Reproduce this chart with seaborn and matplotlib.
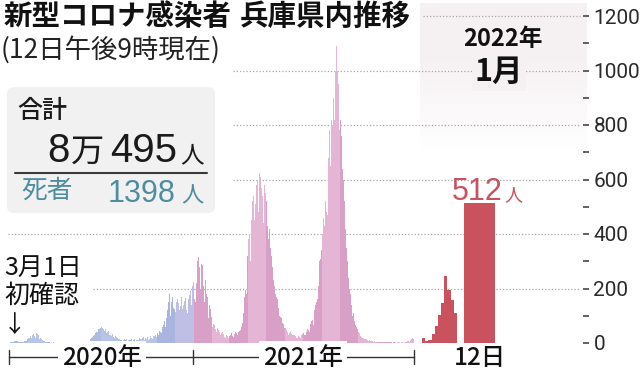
import numpy as np
import pandas as pd
import matplotlib
matplotlib.use("Agg")
import matplotlib.pyplot as plt
import seaborn as sns
from matplotlib.patches import FancyBboxPatch
from matplotlib.lines import Line2D

# ---------------- data (daily new cases, Hyogo) ----------------
m2020_03 = [1,0,2,1,3,2,6,5,4,6, 8,7,9,10,6,5,4,5,3,2, 4,3,5,3,4,6,8,9,7,12, 14]
m2020_04 = [15,18,20,22,25,16,20,28,30,32, 42,25,18,30,35,38,33,28,20,15, 22,18,16,12,10,8,6,9,7,5]
m2020_05 = [4,3,5,2,3,1,2,1,3,1, 0,1,2,0,1,0,0,1,0,0, 0,0,1,0,0,0,0,0,0,0, 0]
m2020_06 = [0,0,1,0,0,0,0,0,1,0, 0,0,0,1,0,0,0,0,1,0, 0,0,1,0,0,0,1,2,0,1]
m2020_07 = [1,2,1,3,2,4,5,4,6,8, 10,9,12,14,18,20,22,25,20,30, 35,38,40,45,42,48,52,50,45,55, 58]
m2020_08 = [60,55,48,52,58,45,50,42,38,35, 40,44,36,30,32,28,25,30,34,28, 22,20,24,26,18,22,20,16,15,18, 14]
m2020_09 = [12,15,10,14,9,11,8,13,12,10, 16,9,7,12,14,10,8,11,13,9, 6,10,12,15,11,9,14,12,10,13]
m2020_10 = [12,15,18,14,10,16,20,18,22,15, 12,14,18,16,20,22,17,12,15,19, 24,20,18,16,22,25,28,24,30,26, 22]
m2020_11 = [30,35,28,40,45,50,42,38,55,60, 65,70,80,75,60,90,110,120,130,150, 180,140,100,120,150,170,160,130,110,125]
m2020_12 = [115,140,150,130,160,145,110,120,150,135, 170,160,125,100,140,155,150,165,140,120, 110,150,160,145,175,190,150,140,180,210, 225]
m2021_01 = [140,160,150,180,220,260,300,315,320,280, 230,200,290,300,285,270,210,150,200,230, 210,180,170,130,90,120,140,125,105,95, 75]
m2021_02 = [60,70,80,65,55,50,40,45,55,60, 48,42,38,30,25,35,40,38,32,28, 22,20,28,30,26,24,20,22]
m2021_03 = [25,30,28,35,32,26,22,30,34,38, 40,35,30,28,36,42,45,50,48,55, 60,75,90,110,140,170,195,210,180,250, 320]
m2021_04 = [380,420,400,330,300,450,480,520,500,540, 450,400,510,560,580,600,560,480,520,625, 610,590,570,540,480,440,560,580,550,530]
m2021_05 = [520,480,430,380,360,420,400,350,320,300, 280,260,230,210,200,180,150,170,160,140, 130,110,100,95,110,90,80,75,70,60, 55]
m2021_06 = [50,55,48,45,40,38,30,35,42,40, 36,32,28,25,30,34,28,26,22,20, 18,24,26,28,22,20,25,30,28,32]
m2021_07 = [35,38,30,25,28,40,45,50,55,48, 42,60,70,75,80,85,70,65,100,120, 140,130,150,170,160,210,260,300,320,310, 340]
m2021_08 = [320,400,450,460,430,500,520,560,480,470, 600,680,700,780,650,620,820,800,850,900, 880,820,1000,1050,1090,1070,1000,950,850,780, 900]
m2021_09 = [820,760,700,640,780,600,520,480,420,380, 350,300,250,240,220,200,180,150,140,120, 100,110,90,80,70,65,60,55,50,45]
m2021_10 = [40,38,30,25,28,22,20,24,18,15, 12,14,16,13,10,9,8,12,10,9, 8,7,9,6,5,7,8,6,5,4, 6]
m2021_11 = [5,3,4,2,6,5,3,4,2,3, 5,4,2,3,1,2,4,3,2,1, 3,2,4,3,2,1,3,2,4,3]
m2021_12 = [2,3,1,4,2,3,5,2,1,3, 4,2,3,1,2,4,3,2,5,3, 6,8,5,4,3,10,15,12,18,20, 14]

jan2022_days = ["1", "2", "3", "4", "5", "6", "7", "8", "9", "10", "11"]
jan2022_vals = [17, 7, 12, 33, 62, 103, 145, 245, 195, 158, 109]
today_label = ["12"]
today_val = [512]

yticks = [0, 200, 400, 600, 800, 1000, 1200]

months = [
    ("2020-03", m2020_03), ("2020-04", m2020_04), ("2020-05", m2020_05),
    ("2020-06", m2020_06), ("2020-07", m2020_07), ("2020-08", m2020_08),
    ("2020-09", m2020_09), ("2020-10", m2020_10), ("2020-11", m2020_11),
    ("2020-12", m2020_12), ("2021-01", m2021_01), ("2021-02", m2021_02),
    ("2021-03", m2021_03), ("2021-04", m2021_04), ("2021-05", m2021_05),
    ("2021-06", m2021_06), ("2021-07", m2021_07), ("2021-08", m2021_08),
    ("2021-09", m2021_09), ("2021-10", m2021_10), ("2021-11", m2021_11),
    ("2021-12", m2021_12),
]

# ---------------- colours ----------------
def month_color(label):
    y, m = label.split("-")
    m = int(m)
    if y == "2020":
        if m == 12:
            return "#bfbfe6"
        if m == 11:
            return "#a9b5de"
        return "#aebbe0" if m % 2 else "#b8c4e6"
    return "#d8a0c6" if m % 2 else "#e5b5d6"

palette = {lab: month_color(lab) for lab, _ in months}
RED = "#c9525e"
TEAL = "#4d8d9f"

rows = []
for lab, vals in months:
    for v in vals:
        rows.append((lab, v))
df = pd.DataFrame(rows, columns=["month", "cases"])
df["day"] = np.arange(len(df))
n_days = len(df)

# ---------------- figure ----------------
sns.set_theme(style="white")
plt.rcParams["font.family"] = ["Noto Sans CJK JP", "DejaVu Sans"]
NUMF = ["Liberation Sans", "DejaVu Sans"]

W, H = 640, 375
fig = plt.figure(figsize=(W / 100, H / 100), dpi=100)
fig.patch.set_facecolor("white")

Y0 = 343.0       # pixel row of value 0
PPU = 0.2725     # pixels per case
YMAX = 1248
YTOP = Y0 - YMAX * PPU


def px_axes(x0, x1, ytop, ybot, z):
    ax = fig.add_axes([x0 / W, 1 - ybot / H, (x1 - x0) / W, (ybot - ytop) / H])
    ax.set_zorder(z)
    ax.patch.set_alpha(0)
    return ax


def t(x, y, s, **kw):
    return fig.text(x / W, 1 - y / H, s, **kw)


# 2022 header box (gradient)
ax_box = px_axes(420, 587, 3, 150, 0)
grad = np.ones((100, 1, 4))
base = np.array([0.962, 0.945, 0.952])
for i in range(100):
    f = min(1.0, max(0.0, (i - 35) / 65))
    grad[i, 0, :3] = base * (1 - f) + np.array([1, 1, 1]) * f
ax_box.imshow(grad, aspect="auto", extent=(0, 1, 0, 1), origin="upper")
ax_box.axis("off")

# background axis: gridlines + right y axis
ax_bg = px_axes(0, 583, YTOP, Y0, 1)
ax_bg.set_xlim(0, 583)
ax_bg.set_ylim(0, YMAX)
grid_start = {200: 93, 400: 8, 600: 233, 800: 233, 1000: 233, 1200: 423}
for v in yticks[1:]:
    ax_bg.hlines(v, grid_start[v], 580, colors="#a8a8a8", linewidth=0.9,
                 linestyles=(0, (1, 1.6)))
for s in ax_bg.spines.values():
    s.set_visible(False)
ax_bg.set_xticks([])
ax_bg.yaxis.tick_right()
ax_bg.set_yticks(yticks)
ax_bg.set_yticks(np.arange(100, 1200, 200), minor=True)
ax_bg.tick_params(axis="y", which="both", direction="out", length=4.5, width=1.3,
                  color="#555555", pad=3, labelsize=15, labelcolor="#2a2a2a",
                  right=True, left=False, labelright=True, labelleft=False)
for lab in ax_bg.get_yticklabels():
    lab.set_fontfamily(["Roboto", "DejaVu Sans"])

# daily bars 2020-03 .. 2021-12
ax_main = px_axes(9, 414, YTOP, Y0, 2)
sns.barplot(data=df, x="day", y="cases", hue="month", palette=palette,
            width=1.0, errorbar=None, saturation=1, linewidth=0,
            edgecolor="none", legend=False, ax=ax_main)
ax_main.set_xlim(-0.5, n_days - 0.5)
ax_main.set_ylim(0, YMAX)
ax_main.axis("off")

# January 2022 bars
ax_jan = px_axes(422, 457, YTOP, Y0, 2)
sns.barplot(x=jan2022_days, y=jan2022_vals, color=RED, width=1.0,
            errorbar=None, saturation=1, linewidth=0, edgecolor="none", ax=ax_jan)
ax_jan.set_xlim(-0.5, len(jan2022_days) - 0.5)
ax_jan.set_ylim(0, YMAX)
ax_jan.axis("off")

ax_today = px_axes(464, 495, YTOP, Y0, 2)
sns.barplot(x=today_label, y=today_val, color=RED, width=1.0,
            errorbar=None, saturation=1, linewidth=0, edgecolor="none", ax=ax_today)
ax_today.set_xlim(-0.5, 0.5)
ax_today.set_ylim(0, YMAX)
ax_today.axis("off")

# ---------------- texts ----------------
t(4, 17, "新型コロナ感染者", fontsize=20.5, fontweight="bold", va="center", color="#111111")
t(240, 17, "兵庫県内推移", fontsize=20.5, fontweight="bold", va="center", color="#111111")
t(1, 50, "(12日午後9時現在)", fontsize=19, va="center", color="#222222")

# totals box
box = FancyBboxPatch((7 / 100, (H - 213) / 100), 208 / 100, 126 / 100,
                     boxstyle="round,pad=0,rounding_size=0.07",
                     transform=fig.dpi_scale_trans, facecolor="#f1f1f1",
                     edgecolor="none", zorder=5)
fig.patches.append(box)
fig.add_artist(Line2D([15 / W, 207 / W], [1 - 173 / H, 1 - 173 / H],
                      color="#3a3a3a", linewidth=1.5, zorder=6))
t(17, 111, "合計", fontsize=18, fontweight="medium", va="center", color="#1a1a1a", zorder=7)
t(70, 162, "8", fontsize=29, va="baseline", ha="right", color="#1a1a1a", family=NUMF, zorder=7)
t(104, 162, "万", fontsize=24, va="baseline", ha="right", color="#1a1a1a", zorder=7)
t(177, 162, "495", fontsize=29, va="baseline", ha="right", color="#1a1a1a", family=NUMF, zorder=7)
t(204, 162, "人", fontsize=17, va="baseline", ha="right", color="#1a1a1a", zorder=7)
t(21, 191, "死者", fontsize=18.5, va="center", color=TEAL, zorder=7)
t(176, 202, "1398", fontsize=22, va="baseline", ha="right", color=TEAL, family=NUMF, zorder=7)
t(204, 202, "人", fontsize=16, va="baseline", ha="right", color=TEAL, zorder=7)

# 2022 header
t(503, 39, "2022年", fontsize=17, fontweight="bold", ha="center", va="center", color="#111111")
t(499, 72, "1月", fontsize=22, fontweight="bold", ha="center", va="center", color="#111111",
  bbox=dict(facecolor="#f5f1f3", edgecolor="none", pad=2))

# today value
t(503, 200, "512", fontsize=22, va="baseline", ha="right", color=RED, family=NUMF)
t(504, 200, "人", fontsize=13, va="baseline", ha="left", color=RED)

# first case annotation
t(4, 268, "3月1日", fontsize=18, va="center", color="#111111")
t(4, 296, "初確認", fontsize=18, va="center", color="#111111")
t(3, 326, "↓", fontsize=17, va="center", color="#111111")

# bottom year bracket
YB = 357
fig.add_artist(Line2D([9 / W, 414 / W], [1 - YB / H, 1 - YB / H], color="#333333", linewidth=1))
for xp in (9, 193, 414):
    fig.add_artist(Line2D([xp / W, xp / W], [1 - (YB - 7) / H, 1 - (YB + 7) / H],
                          color="#333333", linewidth=1))
for xp, s in ((102, "2020年"), (303, "2021年")):
    t(xp, YB + 1, s, fontsize=17.5, fontweight="medium", ha="center", va="center", color="#111111",
      bbox=dict(facecolor="white", edgecolor="none", pad=3))
t(480, YB + 1, "12日", fontsize=17.5, fontweight="medium", ha="center", va="center", color="#111111")

fig.savefig("out.png", dpi=100)
